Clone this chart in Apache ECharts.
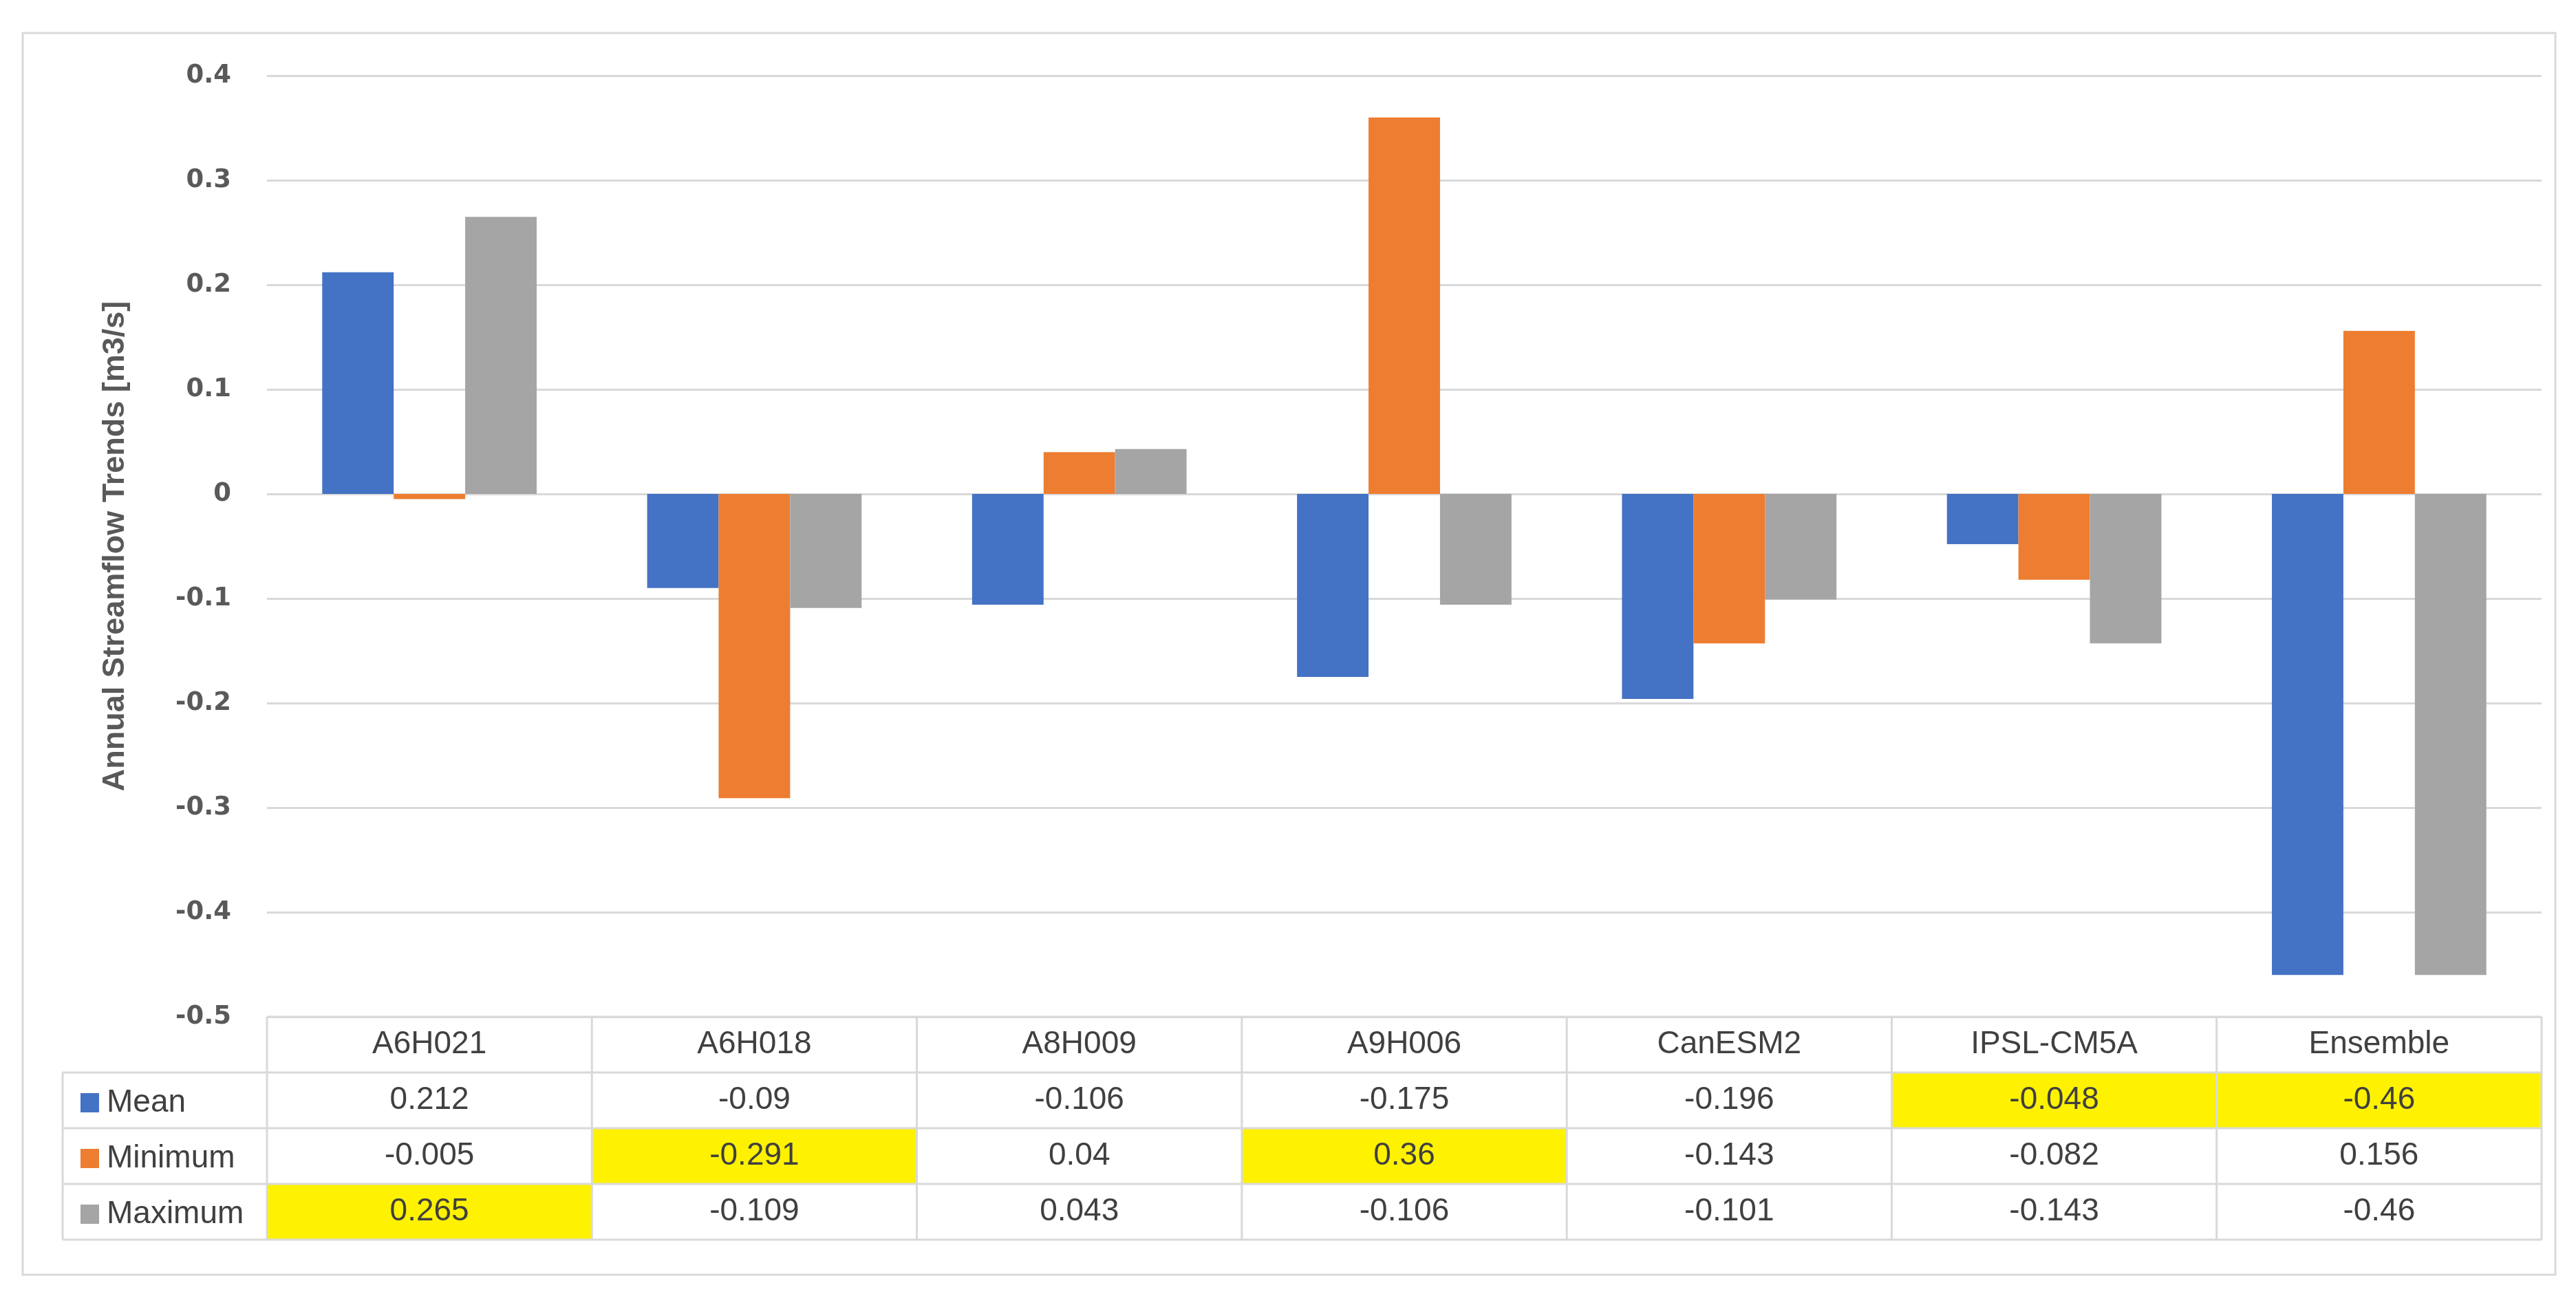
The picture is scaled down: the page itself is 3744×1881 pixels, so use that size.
<!DOCTYPE html>
<html>
<head>
<meta charset="utf-8">
<script src="https://cdn.jsdelivr.net/npm/echarts@6/dist/echarts.min.js"></script>
<style>
html,body{margin:0;padding:0;background:#ffffff;}
#chart{width:3744px;height:1881px;}
</style>
</head>
<body>
<div id="chart"></div>
<script>
// ---- data ----
const categories = ['A6H021', 'A6H018', 'A8H009', 'A9H006', 'CanESM2', 'IPSL-CM5A', 'Ensemble'];
const seriesNames = ['Mean', 'Minimum', 'Maximum'];
const meanValues = [0.212, -0.09, -0.106, -0.175, -0.196, -0.048, -0.46];
const minimumValues = [-0.005, -0.291, 0.04, 0.36, -0.143, -0.082, 0.156];
const maximumValues = [0.265, -0.109, 0.043, -0.106, -0.101, -0.143, -0.46];
// highlighted (yellow) cells in the data table
const meanHighlight = [false, false, false, false, false, true, true];
const minimumHighlight = [false, true, false, true, false, false, false];
const maximumHighlight = [true, false, false, false, false, false, false];
const yAxisTitle = 'Annual Streamflow Trends [m3/s]';
const yMin = -0.5, yMax = 0.4, yInterval = 0.1;

// ---- styles ----
const colors = ['#4472C4', '#ED7D31', '#A5A5A5'];
const lineColor = '#d9d9d9';
const tableFont = 'Liberation Sans';
const tableFontSize = 46;
const textColor = '#404040';

const allValues = [meanValues, minimumValues, maximumValues];
const allHighlights = [meanHighlight, minimumHighlight, maximumHighlight];

const chart = echarts.init(document.getElementById('chart'), null, {renderer: 'canvas'});

const rowHeight = 81;
const gridBottom = 403;

chart.setOption({
  animation: false,
  backgroundColor: '#ffffff',
  grid: {left: 388, right: 50, top: 110, bottom: gridBottom, containLabel: false},
  xAxis: {
    type: 'category',
    data: categories,
    axisLine: {show: false},
    axisTick: {show: false},
    axisLabel: {show: false},
    splitLine: {show: false}
  },
  yAxis: {
    type: 'value',
    min: yMin, max: yMax, interval: yInterval,
    axisLine: {show: false},
    axisTick: {show: false},
    splitLine: {show: true, lineStyle: {color: lineColor, width: 3}},
    axisLabel: {
      margin: 52,
      fontFamily: 'DejaVu Sans', fontWeight: 'bold', fontSize: 37, color: '#595959',
      formatter: v => String(+v.toFixed(1))
    },
    name: yAxisTitle,
    nameLocation: 'middle',
    nameRotate: 90,
    nameGap: 198,
    nameTextStyle: {fontFamily: tableFont, fontWeight: 'bold', fontSize: 45, color: '#595959'}
  },
  legend: {
    show: true,
    orient: 'vertical',
    left: 112,
    top: 1575,
    itemWidth: 27,
    itemHeight: 28,
    itemGap: 35,
    icon: 'rect',
    data: seriesNames,
    selectedMode: false,
    textStyle: {fontFamily: tableFont, fontSize: tableFontSize, lineHeight: 46, color: textColor, padding: [0, 0, 0, 6]}
  },
  series: seriesNames.map((name, i) => ({
    name: name,
    type: 'bar',
    data: allValues[i],
    barGap: '0%',
    barCategoryGap: '34%',
    itemStyle: {color: colors[i]}
  }))
});

// ---- data table under the plot, positioned from the axes ----
function buildTable() {
  const c0 = chart.convertToPixel({xAxisIndex: 0}, categories[0]);
  const c1 = chart.convertToPixel({xAxisIndex: 0}, categories[1]);
  const band = c1 - c0;
  const left = c0 - band / 2;
  const right = left + band * categories.length;
  const top = chart.convertToPixel({yAxisIndex: 0}, yMin);
  const legendLeft = 91;
  const g = [];
  const rows = seriesNames.length;
  const bottom = top + rowHeight * (rows + 1);
  // highlight fills
  for (let r = 0; r < rows; r++) {
    for (let c = 0; c < categories.length; c++) {
      if (allHighlights[r][c]) {
        g.push({type: 'rect', silent: true, z: 1,
          shape: {x: left + c * band, y: top + rowHeight * (r + 1), width: band, height: rowHeight},
          style: {fill: '#FFF200'}});
      }
    }
  }
  // horizontal lines
  g.push({type: 'line', silent: true, z: 2, shape: {x1: left, y1: top, x2: right, y2: top}, style: {stroke: lineColor, lineWidth: 3}});
  for (let r = 1; r <= rows + 1; r++) {
    const y = top + rowHeight * r;
    g.push({type: 'line', silent: true, z: 2, shape: {x1: legendLeft, y1: y, x2: right, y2: y}, style: {stroke: lineColor, lineWidth: 3}});
  }
  // vertical lines
  g.push({type: 'line', silent: true, z: 2, shape: {x1: legendLeft, y1: top + rowHeight, x2: legendLeft, y2: bottom}, style: {stroke: lineColor, lineWidth: 3}});
  for (let c = 0; c <= categories.length; c++) {
    const x = left + c * band;
    g.push({type: 'line', silent: true, z: 2, shape: {x1: x, y1: top, x2: x, y2: bottom}, style: {stroke: lineColor, lineWidth: 3}});
  }
  // header texts
  categories.forEach((cat, c) => {
    g.push({type: 'text', silent: true, z: 3,
      x: left + (c + 0.5) * band, y: top + rowHeight / 2,
      style: {text: cat, fill: textColor, font: tableFontSize + 'px "' + tableFont + '"', align: 'center', verticalAlign: 'middle'}});
  });
  // value texts
  for (let r = 0; r < rows; r++) {
    allValues[r].forEach((v, c) => {
      g.push({type: 'text', silent: true, z: 3,
        x: left + (c + 0.5) * band, y: top + rowHeight * (r + 1.5),
        style: {text: String(v), fill: textColor, font: tableFontSize + 'px "' + tableFont + '"', align: 'center', verticalAlign: 'middle'}});
    });
  }
  // outer frame
  g.push({type: 'rect', silent: true, z: 0,
    shape: {x: 33, y: 48, width: 3714 - 33, height: 1853 - 48},
    style: {fill: 'none', stroke: lineColor, lineWidth: 3}});
  chart.setOption({graphic: g});
}
buildTable();
</script>
</body>
</html>
